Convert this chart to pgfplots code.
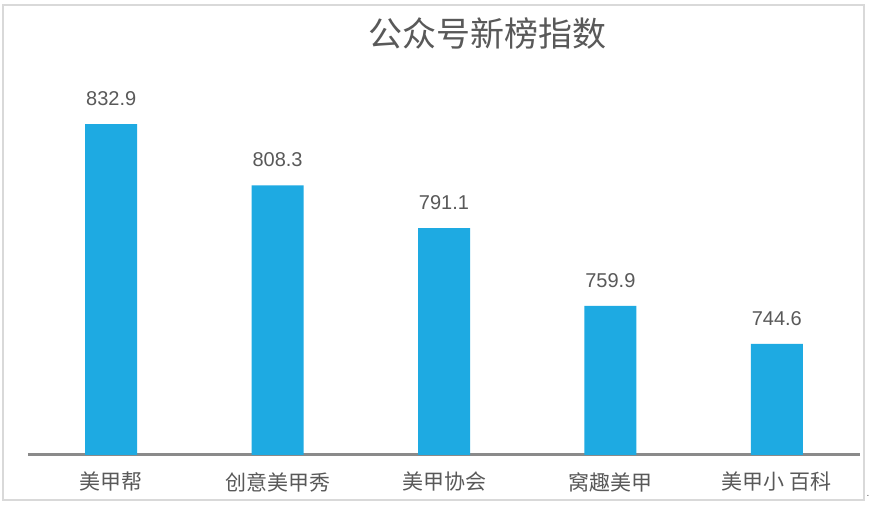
\documentclass[border=0pt]{standalone}
\usepackage{fontspec}
\setmainfont{Liberation Sans}
\newfontfamily\cjk{Noto Sans CJK SC}
\usepackage{pgfplots}
\pgfplotsset{compat=1.18}
\definecolor{barblue}{HTML}{1EAAE2}
\definecolor{txtgray}{HTML}{595959}
\definecolor{axgray}{HTML}{8A8A8A}
\definecolor{framegray}{HTML}{D9D9D9}
\begin{document}
\begin{tikzpicture}[x=1pt,y=1pt]
  \useasboundingbox[fill=white] (0,0) rectangle (870,510);
  \draw[framegray, line width=2pt] (3,10) rectangle (864,505);
  \node[txtgray, font=\cjk\fontsize{34}{40}\selectfont] at (487,476) {公众号新榜指数};
  \node[txtgray, font=\fontsize{10}{12}\selectfont, inner sep=0pt, anchor=base] at (868,13) {.};
  \begin{axis}[
      at={(28pt,55pt)}, anchor=south west,
      scale only axis, width=832pt, height=398.4pt,
      ybar, bar width=52pt, bar shift=0pt,
      xmin=-0.5, xmax=4.5, ymin=700, ymax=860,
      enlargelimits=false, clip=false,
      axis x line=bottom, axis y line=none,
      x axis line style={draw=axgray, line width=3pt, -},
      xtick=data, major tick length=0pt,
      xticklabels={美甲帮, 创意美甲秀, 美甲协会, 窝趣美甲, 美甲小 百科},
      xticklabel style={font=\cjk\fontsize{21}{24}\selectfont, text=txtgray, anchor=north, inner sep=0pt, yshift=-17pt},
      point meta=explicit symbolic,
      nodes near coords,
      every node near coord/.append style={font=\fontsize{20}{24}\selectfont, text=txtgray, anchor=south, inner sep=0pt, yshift=18pt},
    ]
    \addplot[fill=barblue, draw=none] coordinates {
      (0,832.9) [832.9]
      (1,808.3) [808.3]
      (2,791.1) [791.1]
      (3,759.9) [759.9]
      (4,744.6) [744.6]
    };
  \end{axis}
\end{tikzpicture}
\end{document}
